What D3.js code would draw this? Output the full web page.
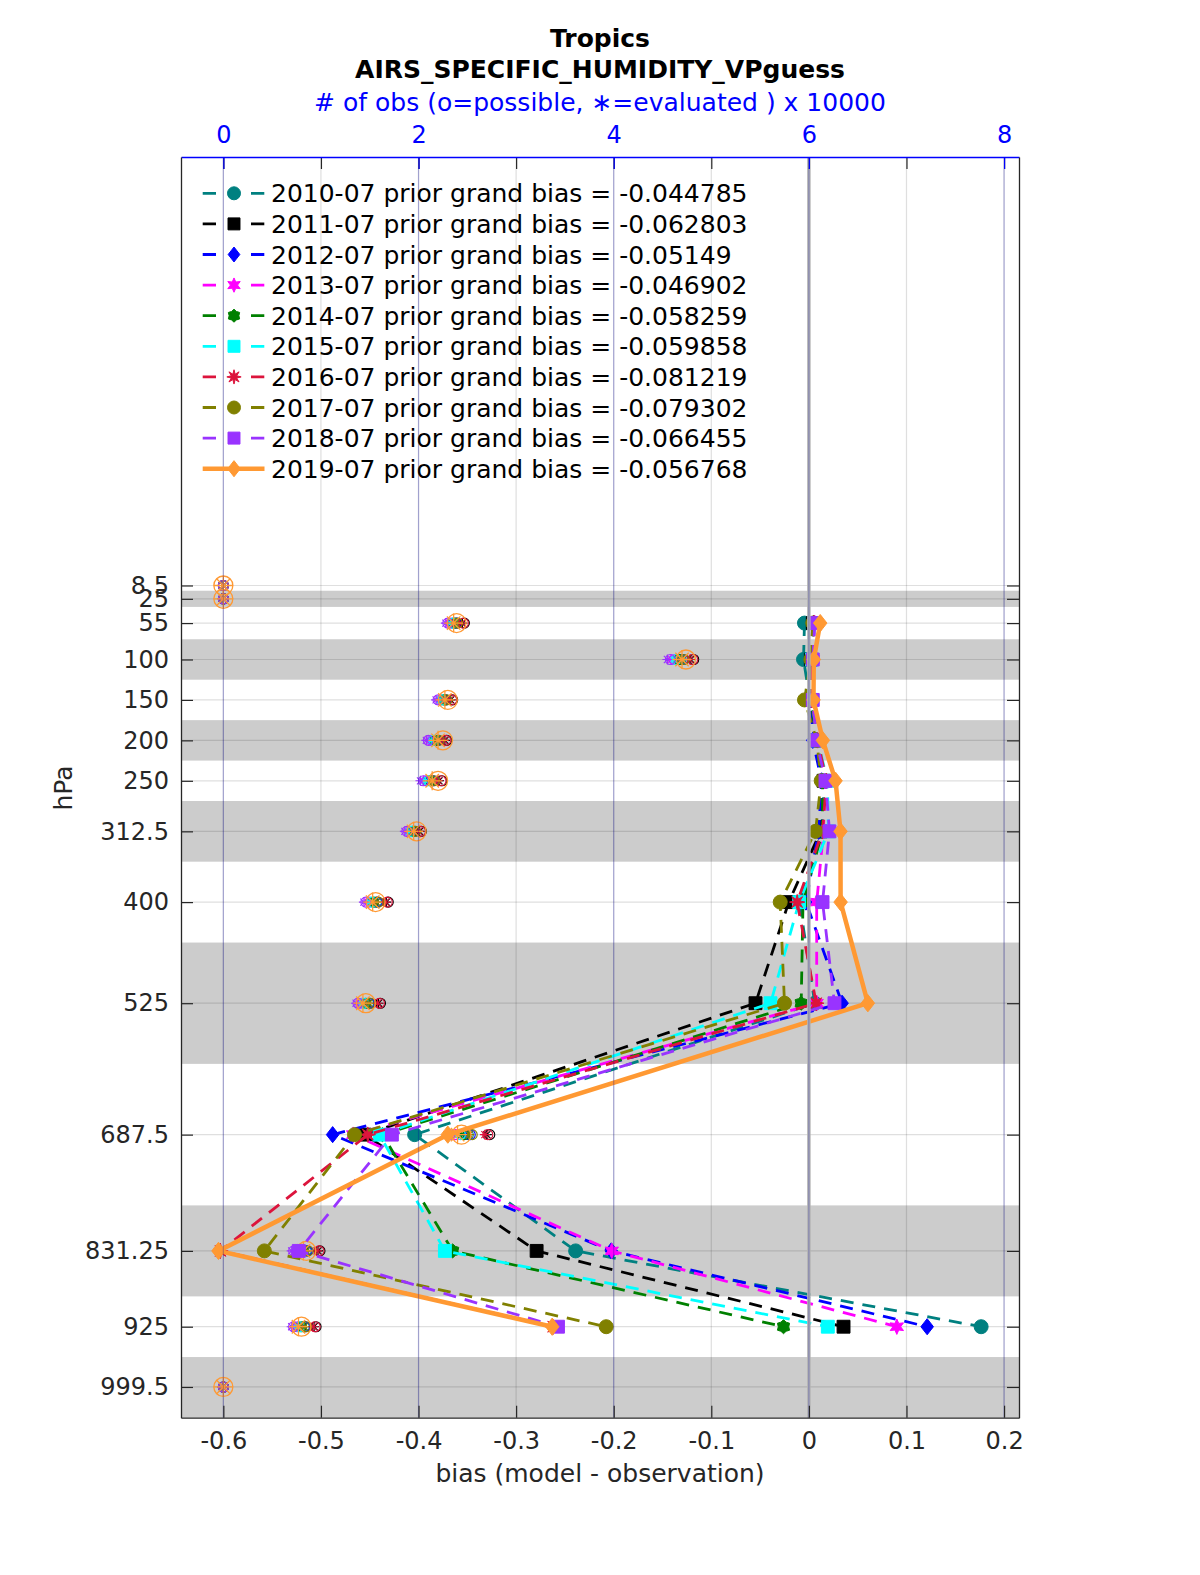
<!DOCTYPE html>
<html>
<head>
<meta charset="utf-8">
<script src="https://cdn.jsdelivr.net/npm/d3@7"></script>
<style>
  body { margin: 0; background: #fff; }
  svg { font-family: "DejaVu Sans", sans-serif; }
</style>
</head>
<body>
<svg id="chart" width="1200" height="1575"></svg>
<script>
// -------- data --------
const levels = [8.5, 25, 55, 100, 150, 200, 250, 312.5, 400, 525, 687.5, 831.25, 925, 999.5];
const levelLabels = ['8.5', '25', '55', '100', '150', '200', '250', '312.5', '400', '525', '687.5', '831.25', '925', '999.5'];
const biasLevels = [55, 100, 150, 200, 250, 312.5, 400, 525, 687.5, 831.25, 925];
const layerBands = [[15, 35], [75, 125], [175, 225], [275, 350], [450, 600], [775, 887.5], [962.5, 1037.5]];

const years = ['2010-07', '2011-07', '2012-07', '2013-07', '2014-07', '2015-07', '2016-07', '2017-07', '2018-07', '2019-07'];
const grandBias = ['-0.044785', '-0.062803', '-0.05149', '-0.046902', '-0.058259', '-0.059858', '-0.081219', '-0.079302', '-0.066455', '-0.056768'];

// bias at biasLevels, one row per year
const biasValues = [
  [-0.0045, -0.0055, 0.001, 0.008, 0.016, 0.013, -0.0096, 0.006, -0.404, -0.239, 0.1765],
  [0.004, 0.002, 0.002, 0.008, 0.015, 0.012, -0.0206, -0.0547, -0.455, -0.279, 0.0355],
  [0.005, 0.003, 0.002, 0.004, 0.013, 0.010, -0.003, 0.034, -0.488, -0.2025, 0.1212],
  [0.006, 0.004, 0.003, 0.009, 0.016, 0.015, 0.008, 0.008, -0.467, -0.202, 0.0901],
  [0.005, 0.002, 0.002, 0.008, 0.014, 0.014, -0.006, -0.0079, -0.437, -0.365, -0.026],
  [0.006, 0.003, 0.003, 0.009, 0.019, 0.020, -0.010, -0.0393, -0.440, -0.373, 0.0194],
  [0.005, 0.003, 0.003, 0.009, 0.018, 0.014, -0.012, 0.0075, -0.452, -0.603, -0.262],
  [0.004, 0.002, -0.0045, 0.008, 0.0126, 0.0068, -0.0294, -0.025, -0.4656, -0.558, -0.2077],
  [0.006, 0.004, 0.004, 0.0075, 0.017, 0.0211, 0.014, 0.0262, -0.4273, -0.5227, -0.2571],
  [0.0116, 0.005, 0.0047, 0.0143, 0.0273, 0.0324, 0.0325, 0.0604, -0.370, -0.605, -0.263]
];

// obs counts (x 10000) at levels
const possibleObs = [
  [0, 0, 2.38, 4.69, 2.27, 2.19, 2.14, 1.95, 1.57, 1.49, 2.51, 0.85, 0.83, 0],
  [0, 0, 2.47, 4.82, 2.35, 2.29, 2.24, 2.03, 1.69, 1.61, 2.73, 0.99, 0.95, 0],
  [0, 0, 2.39, 4.71, 2.28, 2.20, 2.15, 1.96, 1.58, 1.50, 2.53, 0.86, 0.84, 0],
  [0, 0, 2.33, 4.62, 2.23, 2.13, 2.08, 1.91, 1.50, 1.42, 2.38, 0.76, 0.76, 0],
  [0, 0, 2.36, 4.67, 2.26, 2.17, 2.12, 1.94, 1.54, 1.46, 2.47, 0.82, 0.80, 0],
  [0, 0, 2.35, 4.64, 2.24, 2.15, 2.10, 1.92, 1.52, 1.44, 2.43, 0.79, 0.78, 0],
  [0, 0, 2.46, 4.81, 2.34, 2.28, 2.23, 2.02, 1.68, 1.60, 2.71, 0.98, 0.94, 0],
  [0, 0, 2.40, 4.72, 2.29, 2.21, 2.16, 1.97, 1.59, 1.51, 2.55, 0.87, 0.85, 0],
  [0, 0, 2.30, 4.58, 2.20, 2.10, 2.05, 1.88, 1.46, 1.38, 2.32, 0.72, 0.72, 0],
  [0, 0, 2.39, 4.74, 2.30, 2.25, 2.20, 1.98, 1.56, 1.46, 2.44, 0.85, 0.80, 0]
];
const evaluatedObs = [
  [0, 0, 2.36, 4.66, 2.25, 2.17, 2.11, 1.93, 1.55, 1.47, 2.48, 0.83, 0.81, 0],
  [0, 0, 2.45, 4.79, 2.33, 2.27, 2.21, 2.01, 1.67, 1.59, 2.70, 0.97, 0.93, 0],
  [0, 0, 2.37, 4.68, 2.26, 2.18, 2.12, 1.94, 1.56, 1.48, 2.50, 0.84, 0.82, 0],
  [0, 0, 2.31, 4.59, 2.21, 2.11, 2.05, 1.89, 1.48, 1.40, 2.35, 0.74, 0.74, 0],
  [0, 0, 2.34, 4.64, 2.24, 2.15, 2.09, 1.92, 1.52, 1.44, 2.44, 0.80, 0.78, 0],
  [0, 0, 2.33, 4.61, 2.22, 2.13, 2.07, 1.90, 1.50, 1.42, 2.40, 0.77, 0.76, 0],
  [0, 0, 2.44, 4.78, 2.32, 2.26, 2.20, 2.00, 1.66, 1.58, 2.68, 0.96, 0.92, 0],
  [0, 0, 2.38, 4.69, 2.27, 2.19, 2.13, 1.95, 1.57, 1.49, 2.52, 0.85, 0.83, 0],
  [0, 0, 2.28, 4.55, 2.18, 2.08, 2.02, 1.86, 1.44, 1.36, 2.29, 0.70, 0.70, 0],
  [0, 0, 2.36, 4.70, 2.27, 2.20, 2.14, 1.95, 1.53, 1.43, 2.40, 0.82, 0.77, 0]
];

const biasTicks = [-0.6, -0.5, -0.4, -0.3, -0.2, -0.1, 0, 0.1, 0.2];
const obsTicks = [0, 2, 4, 6, 8];

// -------- styles --------
const colors = ['#008080', '#000000', '#0000ff', '#ff00ff', '#008000', '#00ffff', '#dc143c', '#808000', '#9933ff', '#ff9933'];
const markers = ['circle', 'square', 'diamond', 'star6', 'hex', 'square', 'star8', 'circle', 'square', 'diamond'];

const plot = { left: 181, right: 1019, top: 157, bottom: 1417.7 };

const svg = d3.select('#chart');

const x = d3.scaleLinear().domain([-0.6434, 0.2153]).range([plot.left, plot.right]);
// top axis: obs count, tied to the bias axis
const xTop = d3.scaleLinear().domain(x.domain().map(b => (b + 0.6) * 10)).range([plot.left, plot.right]);
const y = d3.scaleLinear().domain([-521.3, 1037.5]).range([plot.top, plot.bottom]);

function starPath(n, ro, ri) {
  const p = d3.path();
  for (let k = 0; k < 2 * n; k++) {
    const r = k % 2 === 0 ? ro : ri;
    const a = -Math.PI / 2 + k * Math.PI / n;
    if (k === 0) p.moveTo(r * Math.cos(a), r * Math.sin(a));
    else p.lineTo(r * Math.cos(a), r * Math.sin(a));
  }
  p.closePath();
  return p.toString();
}

function markerPath(type, r) {
  switch (type) {
    case 'circle': return d3.symbol(d3.symbolCircle, Math.PI * r * r)();
    case 'square': { const s = r * 0.92; return `M${-s},${-s}H${s}V${s}H${-s}Z`; }
    case 'diamond': return `M0,${-r * 1.15}L${r * 0.9},0L0,${r * 1.15}L${-r * 0.9},0Z`;
    case 'star6': return starPath(6, r * 1.1, r * 0.55);
    case 'hex': return starPath(6, r * 1.0, r * 0.75);
    case 'star8': return starPath(8, r * 1.1, r * 0.45);
  }
}

function asteriskPath(r) {
  const k = r * 0.707;
  return `M${-r},0L${r},0M0,${-r}L0,${r}M${-k},${-k}L${k},${k}M${-k},${k}L${k},${-k}`;
}

// -------- background bands + grid --------
svg.append('g').selectAll('rect')
  .data(layerBands)
  .join('rect')
  .attr('x', plot.left)
  .attr('width', plot.right - plot.left)
  .attr('y', d => y(d[0]))
  .attr('height', d => y(d[1]) - y(d[0]))
  .attr('fill', '#cccccc');

const grid = svg.append('g').attr('class', 'grid');
grid.selectAll('line.h')
  .data(levels)
  .join('line')
  .attr('class', 'h')
  .attr('x1', plot.left).attr('x2', plot.right)
  .attr('y1', d => y(d)).attr('y2', d => y(d))
  .attr('stroke', '#262626').attr('stroke-opacity', 0.15).attr('stroke-width', 1.2);
grid.selectAll('line.v')
  .data(biasTicks)
  .join('line')
  .attr('class', 'v')
  .attr('x1', d => x(d)).attr('x2', d => x(d))
  .attr('y1', plot.top).attr('y2', plot.bottom)
  .attr('stroke', '#262626').attr('stroke-opacity', 0.15).attr('stroke-width', 1.2);

// -------- obs count markers (top axis) --------
const obsG = svg.append('g').attr('class', 'obs');
years.forEach((yr, i) => {
  const big = i === years.length - 1;
  const r = big ? 9.5 : 5;
  const g = obsG.append('g').attr('stroke', colors[i]).attr('fill', 'none').attr('stroke-width', big ? 1.3 : 1.1);
  g.selectAll('path.o')
    .data(levels.map((p, j) => ({ p, v: possibleObs[i][j] })))
    .join('path')
    .attr('class', 'o')
    .attr('transform', d => `translate(${xTop(d.v)},${y(d.p)})`)
    .attr('d', markerPath('circle', r));
  g.selectAll('path.e')
    .data(levels.map((p, j) => ({ p, v: evaluatedObs[i][j] })))
    .join('path')
    .attr('class', 'e')
    .attr('transform', d => `translate(${xTop(d.v)},${y(d.p)})`)
    .attr('d', asteriskPath(r));
});

// -------- bias profiles --------
const line = d3.line().x(d => x(d.b)).y(d => y(d.p));
const dash = '13,9';
const lineG = svg.append('g').attr('class', 'profiles');
years.forEach((yr, i) => {
  const solid = i === years.length - 1;
  const pts = biasLevels.map((p, j) => ({ p, b: biasValues[i][j] }));
  lineG.append('path')
    .datum(pts)
    .attr('d', line)
    .attr('fill', 'none')
    .attr('stroke', colors[i])
    .attr('stroke-width', solid ? 4.5 : 2.8)
    .attr('stroke-dasharray', solid ? null : dash)
    .attr('stroke-linejoin', 'round');
  lineG.append('g').selectAll('path')
    .data(pts)
    .join('path')
    .attr('transform', d => `translate(${x(d.b)},${y(d.p)})`)
    .attr('d', markerPath(markers[i], solid ? 7.5 : 7))
    .attr('fill', colors[i])
    .attr('stroke', colors[i])
    .attr('stroke-width', 1);
});

// zero line + top-axis grid on top of the data
svg.append('line')
  .attr('x1', x(0)).attr('x2', x(0))
  .attr('y1', plot.top).attr('y2', plot.bottom)
  .attr('stroke', '#b3b3b3').attr('stroke-width', 3.5);
svg.append('g').selectAll('line')
  .data(obsTicks)
  .join('line')
  .attr('x1', d => xTop(d)).attr('x2', d => xTop(d))
  .attr('y1', plot.top).attr('y2', plot.bottom)
  .attr('stroke', '#0000a0').attr('stroke-opacity', 0.28).attr('stroke-width', 1.2);

// -------- legend --------
const legend = svg.append('g').attr('class', 'legend');
years.forEach((yr, i) => {
  const solid = i === years.length - 1;
  const cy = 193.3 + i * 30.6;
  const row = legend.append('g').attr('transform', `translate(0,${cy})`);
  row.append('line')
    .attr('x1', 202.7).attr('x2', 264.5)
    .attr('stroke', colors[i])
    .attr('stroke-width', solid ? 4.5 : 2.8)
    .attr('stroke-dasharray', solid ? null : '13.3,35');
  row.append('path')
    .attr('transform', 'translate(234,0)')
    .attr('d', markerPath(markers[i], solid ? 7 : 6.5))
    .attr('fill', colors[i]).attr('stroke', colors[i]);
  row.append('text')
    .attr('x', 271).attr('y', 9)
    .attr('font-size', 25)
    .attr('fill', '#000')
    .text(`${yr} prior grand bias = ${grandBias[i]}`);
});

// -------- axes --------
function styleAxis(g, color, size) {
  g.attr('font-family', '"DejaVu Sans", sans-serif').attr('font-size', size).attr('color', color);
  g.selectAll('.tick line').attr('stroke-width', 1.2);
  g.select('.domain').attr('stroke-width', 1.3);
}

svg.append('g')
  .attr('transform', `translate(0,${plot.bottom})`)
  .call(d3.axisBottom(x).tickValues(biasTicks).tickSizeInner(-12).tickSizeOuter(0).tickPadding(14.5)
    .tickFormat(d => String(d)))
  .call(g => styleAxis(g, '#262626', 24));

svg.append('g')
  .attr('transform', `translate(0,${plot.top})`)
  .call(d3.axisTop(x).tickValues(biasTicks).tickSizeInner(-12).tickSizeOuter(0).tickFormat(''))
  .call(g => styleAxis(g, '#262626', 24))
  .call(g => g.select('.domain').remove());

svg.append('g')
  .attr('transform', `translate(0,${plot.top})`)
  .call(d3.axisTop(xTop).tickValues(obsTicks).tickSizeInner(-12).tickSizeOuter(0).tickPadding(14.3))
  .call(g => styleAxis(g, '#0000ff', 24));

svg.append('g')
  .attr('transform', `translate(${plot.left},0)`)
  .call(d3.axisLeft(y).tickValues(levels).tickSizeInner(-12).tickSizeOuter(0).tickPadding(12)
    .tickFormat((d, i) => levelLabels[i]))
  .call(g => styleAxis(g, '#262626', 24));

svg.append('g')
  .attr('transform', `translate(${plot.right},0)`)
  .call(d3.axisRight(y).tickValues(levels).tickSizeInner(-12).tickSizeOuter(0).tickFormat(''))
  .call(g => styleAxis(g, '#262626', 24));

// -------- titles + labels --------
const cx = (plot.left + plot.right) / 2;
svg.append('text').attr('x', cx).attr('y', 47).attr('text-anchor', 'middle')
  .attr('font-size', 25).attr('font-weight', 'bold').text('Tropics');
svg.append('text').attr('x', cx).attr('y', 78).attr('text-anchor', 'middle')
  .attr('font-size', 25).attr('font-weight', 'bold').text('AIRS_SPECIFIC_HUMIDITY_VPguess');
svg.append('text').attr('x', cx).attr('y', 110.5).attr('text-anchor', 'middle')
  .attr('font-size', 25).attr('fill', '#0000ff').text('# of obs (o=possible, \u2217=evaluated ) x 10000');
svg.append('text').attr('x', cx).attr('y', 1482).attr('text-anchor', 'middle')
  .attr('font-size', 25).attr('fill', '#262626').text('bias (model - observation)');
svg.append('text')
  .attr('transform', 'translate(72,788) rotate(-90)')
  .attr('text-anchor', 'middle')
  .attr('font-size', 25).attr('fill', '#262626').text('hPa');
</script>
</body>
</html>
